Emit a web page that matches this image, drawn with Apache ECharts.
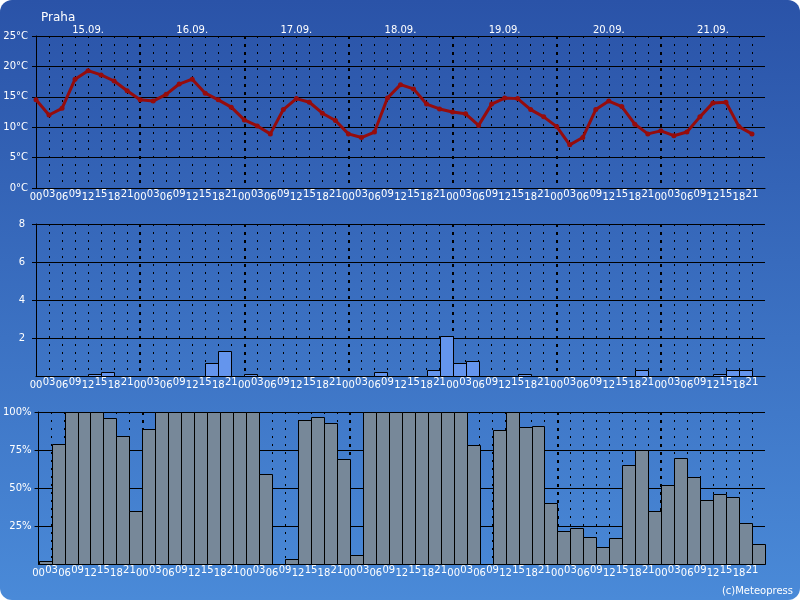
<!DOCTYPE html>
<html>
<head>
<meta charset="utf-8">
<title>Praha</title>
<script src="https://cdn.jsdelivr.net/npm/echarts@6/dist/echarts.min.js"></script>
<style>
    html, body { margin: 0; padding: 0; background: #fff; }
    #chart { width: 800px; height: 600px; border-radius: 12px; overflow: hidden; }
</style>
</head>
<body>
<div id="chart"></div>
<script>
// hodiny a dny na ose x
const hours = ['00', '03', '06', '09', '12', '15', '18', '21'];
const days = ['15.09.', '16.09.', '17.09.', '18.09.', '19.09.', '20.09.', '21.09.'];

// teplota (°C), po 3 hodinach
const temperature = [
    14.5, 12.0, 13.1, 17.9, 19.3, 18.6, 17.6, 16.0,
    14.5, 14.3, 15.4, 17.1, 17.9, 15.6, 14.5, 13.3,
    11.2, 10.2, 8.9, 12.9, 14.7, 14.1, 12.3, 11.1,
    8.9, 8.3, 9.2, 14.8, 17.0, 16.3, 13.8, 13.0,
    12.5, 12.2, 10.3, 13.8, 14.8, 14.7, 12.9, 11.7,
    10.1, 7.1, 8.3, 12.9, 14.3, 13.4, 10.5, 8.9,
    9.4, 8.6, 9.2, 11.7, 14.0, 14.1, 10.1, 8.9
];

// srazky (mm)
const precipitation = [
    0, 0, 0, 0, 0.12, 0.23, 0, 0,
    0, 0, 0, 0, 0, 0.7, 1.33, 0,
    0.1, 0, 0, 0, 0, 0, 0, 0,
    0, 0, 0.23, 0, 0, 0, 0.32, 2.1,
    0.7, 0.79, 0, 0, 0, 0.1, 0, 0,
    0, 0, 0, 0, 0, 0, 0.32, 0,
    0, 0, 0, 0, 0.12, 0.32, 0.32, 0
];

// oblacnost (%)
const cloudCover = [
    2, 79, 100, 100, 100, 96, 84, 35,
    89, 100, 100, 100, 100, 100, 100, 100,
    100, 59, 0, 3, 95, 97, 93, 69,
    6, 100, 100, 100, 100, 100, 100, 100,
    100, 78, 0, 88, 100, 90, 91, 40,
    22, 24, 18, 11, 17, 65, 75, 35,
    52, 70, 57, 42, 46, 44, 27, 13
];

const font = 'DejaVu Sans';
const slots = temperature.length; // 56
const grids = [
    { left: 36, right: 35, top: 36, height: 152 },
    { left: 36, right: 35, top: 224, height: 152 },
    { left: 36, right: 35, top: 412, height: 152 }
];

// popisky hodin jsou strida posunute nahoru/dolu
function hourLabel(v) {
    if (v >= slots) return '';
    const h = hours[v % 8];
    return (v % 2 === 0 ? '{lo|' : '{hi|') + h + '}';
}

function mainXAxis(gridIndex) {
    return {
        type: 'value', gridIndex: gridIndex, min: 0, max: slots, interval: 1,
        axisLine: { show: true, onZero: false, lineStyle: { color: '#000', width: 1 } },
        axisTick: { show: false },
        axisLabel: {
            margin: 1, color: '#fff', fontFamily: font, fontSize: 10,
            formatter: hourLabel,
            rich: {
                lo: { color: '#fff', fontFamily: font, fontSize: 10, padding: [3, 0, 0, 0] },
                hi: { color: '#fff', fontFamily: font, fontSize: 10, padding: [0, 0, 0, 0] }
            }
        },
        splitLine: {
            show: true, showMinLine: false, showMaxLine: false,
            lineStyle: { color: '#000', width: 1, type: [2, 6] }
        }
    };
}

// silnejsi tečkovane cary na hranici dnu
function dayXAxis(gridIndex) {
    return {
        type: 'value', gridIndex: gridIndex, min: 0, max: slots, interval: 8,
        axisLine: { show: false }, axisTick: { show: false }, axisLabel: { show: false },
        splitLine: {
            show: true, showMinLine: false, showMaxLine: false,
            lineStyle: { color: '#000', width: 2, type: [3, 5] }
        }
    };
}

function yAxis(gridIndex, max, interval, formatter, margin, showMin) {
    return {
        type: 'value', gridIndex: gridIndex, min: 0, max: max, interval: interval,
        axisLine: { show: true, lineStyle: { color: '#000', width: 1 } },
        axisTick: { show: true, length: 4, lineStyle: { color: '#000' } },
        axisLabel: {
            color: '#fff', fontFamily: font, fontSize: 10, margin: margin,
            showMinLabel: showMin, formatter: formatter
        },
        splitLine: { show: true, lineStyle: { color: '#000', width: 1 } }
    };
}

function barItem(fill) {
    return function (params, api) {
        const x = api.value(0);
        const v = api.value(1);
        const p0 = api.coord([x, v]);
        const p1 = api.coord([x + 1, 0]);
        return {
            type: 'rect',
            shape: { x: Math.round(p0[0]) + 0.5, y: Math.round(p0[1]) + 0.5,
                     width: Math.round(p1[0]) - Math.round(p0[0]),
                     height: Math.round(p1[1]) - Math.round(p0[1]) },
            style: { fill: fill, stroke: '#000', lineWidth: 1 }
        };
    };
}

const toPairs = arr => arr.map((v, i) => [i, v]).filter(d => d[1] > 0);

const option = {
    animation: false,
    backgroundColor: new echarts.graphic.LinearGradient(0, 0, 0, 1, [
        { offset: 0, color: '#2a53a8' },
        { offset: 1, color: '#4a8ad8' }
    ]),
    title: {
        text: 'Praha', left: 36, top: 7,
        textStyle: { color: '#fff', fontFamily: font, fontSize: 12, fontWeight: 'normal' }
    },
    graphic: [{
        type: 'text', right: 7, bottom: 4,
        style: { text: '(c)Meteopress', fill: '#fff', font: '10px "DejaVu Sans"' }
    }],
    grid: grids,
    xAxis: [
        mainXAxis(0), mainXAxis(1), mainXAxis(2),
        {
            type: 'value', gridIndex: 0, position: 'top', min: 0, max: slots, interval: 4,
            axisLine: { show: false }, axisTick: { show: false }, splitLine: { show: false },
            axisLabel: {
                margin: 1, color: '#fff', fontFamily: font, fontSize: 10,
                formatter: v => (v % 8 === 4 ? days[(v - 4) / 8] : '')
            }
        },
        dayXAxis(0), dayXAxis(1), dayXAxis(2)
    ],
    yAxis: [
        yAxis(0, 25, 5, '{value}°C', 8, true),
        yAxis(1, 8, 2, '{value}', 11, false),
        yAxis(2, 100, 25, '{value}%', 7, false)
    ],
    series: [
        {
            name: 'Teplota', type: 'line', xAxisIndex: 0, yAxisIndex: 0,
            data: temperature.map((v, i) => [i, v]),
            symbol: 'circle', symbolSize: 5,
            lineStyle: { color: '#960c0c', width: 3 },
            itemStyle: { color: '#960c0c' },
            z: 5
        },
        {
            name: 'Srazky', type: 'custom', xAxisIndex: 1, yAxisIndex: 1,
            data: toPairs(precipitation),
            renderItem: barItem('#6495ed')
        },
        {
            name: 'Oblacnost', type: 'custom', xAxisIndex: 2, yAxisIndex: 2,
            data: toPairs(cloudCover),
            renderItem: barItem('#778899')
        }
    ]
};

const myChart = echarts.init(document.getElementById('chart'));
myChart.setOption(option);
</script>
</body>
</html>
